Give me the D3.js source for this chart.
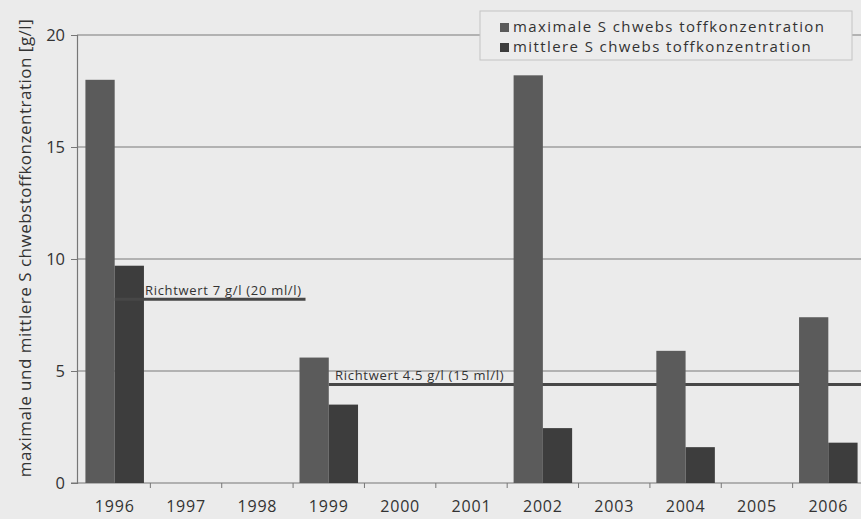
<!DOCTYPE html>
<html><head><meta charset="utf-8">
<script src="https://cdn.jsdelivr.net/npm/d3@7"></script>
<style>
html,body{margin:0;padding:0;background:#ebebeb;}
svg{display:block;font-family:"Open Sans",sans-serif;}
</style></head>
<body>
<script>
const years = ["1996","1997","1998","1999","2000","2001","2002","2003","2004","2005","2006"];
const maxValues  = [18.0, null, null, 5.6, null, null, 18.2, null, 5.9, null, 7.4];
const meanValues = [9.7, null, null, 3.5, null, null, 2.45, null, 1.6, null, 1.8];
const seriesNames = ["maximale S chwebs toffkonzentration", "mittlere S chwebs toffkonzentration"];
const seriesColors = ["#5b5b5b", "#3d3d3d"];
const yTicks = [0, 5, 10, 15, 20];
const refValues = [8.2, 4.4];
const refLabels = ["Richtwert 7 g/l (20 ml/l)", "Richtwert 4.5 g/l (15 ml/l)"];
const yLabel = "maximale und mittlere S chwebstoffkonzentration [g/l]";

const W = 861, H = 519;
const svg = d3.select("body").append("svg").attr("width", W).attr("height", H);
svg.append("rect").attr("width", W).attr("height", H).attr("fill", "#ebebeb");

const x = d3.scaleBand().domain(years).range([79, 864]).paddingInner(0.18).paddingOuter(0.09);
const xs = d3.scaleBand().domain([0, 1]).range([0, x.bandwidth()]);
const y = d3.scaleLinear().domain([0, 20]).range([483, 35]);
const axisX = 77, rightX = W;

// gridlines
svg.append("g").selectAll("line").data(yTicks.filter(d => d > 0)).join("line")
  .attr("x1", axisX).attr("x2", rightX).attr("y1", d => y(d)).attr("y2", d => y(d))
  .attr("stroke", "#7a7a7a").attr("stroke-width", 1.2);

// y axis
const yAxis = d3.axisLeft(y).tickValues(yTicks).tickSize(6).tickPadding(6);
const gy = svg.append("g").attr("transform", `translate(${axisX},0)`).call(yAxis);
gy.select(".domain").attr("stroke", "#777").attr("stroke-width", 1.2);
gy.selectAll(".tick line").attr("stroke", "#777");
gy.selectAll(".tick text").attr("fill", "#333").attr("font-size", 16.5).attr("font-family", "Open Sans");

// x axis
const step = x.step();
const gx = svg.append("g").attr("transform", `translate(0,${y(0)})`);
gx.append("line").attr("x1", axisX - 6).attr("x2", rightX).attr("stroke", "#777").attr("stroke-width", 1.2);
gx.selectAll("line.t").data(years.slice(1)).join("line").attr("class", "t")
  .attr("x1", d => x(d) - step * 0.09).attr("x2", d => x(d) - step * 0.09)
  .attr("y1", 0).attr("y2", 5).attr("stroke", "#777");
gx.selectAll("text").data(years).join("text")
  .attr("x", d => x(d) + x.bandwidth() / 2).attr("y", 29)
  .attr("text-anchor", "middle").attr("font-size", 16).attr("letter-spacing", 0.8)
  .attr("fill", "#333").text(d => d);

// reference line 2 (behind bars)
const ref2Start = x("1999") + xs(1);
svg.append("line").attr("x1", ref2Start).attr("x2", rightX)
  .attr("y1", y(refValues[1])).attr("y2", y(refValues[1]))
  .attr("stroke", "#474747").attr("stroke-width", 3);

// bars
const series = [maxValues, meanValues];
series.forEach((vals, si) => {
  svg.append("g").selectAll("rect").data(years.map((yr, i) => ({yr, v: vals[i]})).filter(d => d.v != null)).join("rect")
    .attr("x", d => x(d.yr) + xs(si)).attr("width", xs.bandwidth())
    .attr("y", d => y(d.v)).attr("height", d => y(0) - y(d.v))
    .attr("fill", seriesColors[si]);
});

// reference line 1
const ref1Start = x("1996") + xs(1);
const ref1End = x("1999") + 6;
svg.append("line").attr("x1", ref1Start).attr("x2", ref1End)
  .attr("y1", y(refValues[0])).attr("y2", y(refValues[0]))
  .attr("stroke", "#474747").attr("stroke-width", 3);

svg.append("text").attr("x", x("1996") + x.bandwidth() + 1).attr("y", y(refValues[0]) - 4)
  .attr("font-size", 13).attr("fill", "#333").attr("letter-spacing", 0.7).text(refLabels[0]);
svg.append("text").attr("x", x("1999") + x.bandwidth() - 23).attr("y", y(refValues[1]) - 4)
  .attr("font-size", 13).attr("fill", "#333").attr("letter-spacing", 0.7).text(refLabels[1]);

// y label
svg.append("text").attr("transform", `translate(31,${(28 + 468) / 2}) rotate(-90)`)
  .attr("text-anchor", "middle").attr("font-size", 17).attr("letter-spacing", 0.5)
  .attr("fill", "#333").text(yLabel);

// legend
const lg = svg.append("g");
lg.append("rect").attr("x", 480).attr("y", 11).attr("width", 372).attr("height", 49)
  .attr("fill", "#ececec").attr("stroke", "#c4c4c4");
seriesNames.forEach((n, i) => {
  lg.append("rect").attr("x", 500).attr("y", 23 + i * 20).attr("width", 9).attr("height", 9).attr("fill", seriesColors[i]);
  lg.append("text").attr("x", 513).attr("y", 32 + i * 20).attr("font-size", 15).attr("letter-spacing", 1.4)
    .attr("fill", "#333").text(n);
});
</script>
</body></html>
